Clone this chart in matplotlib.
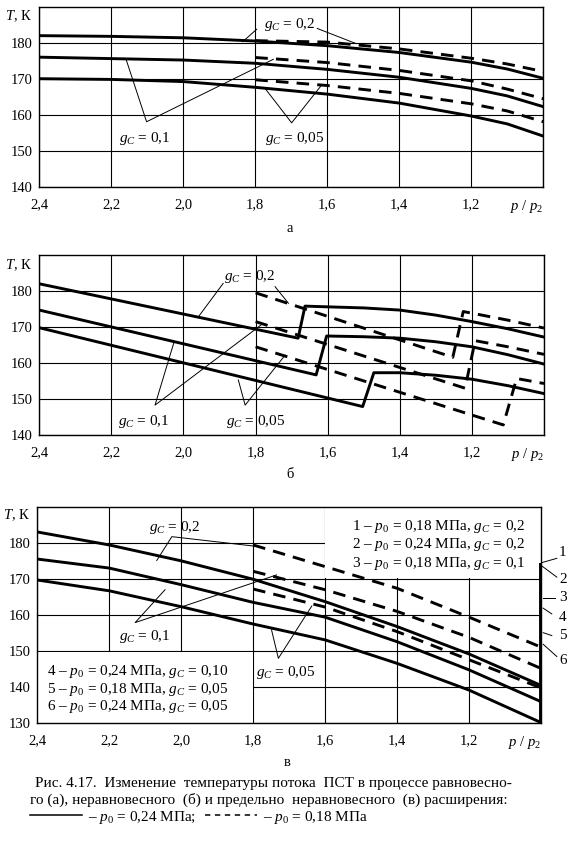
import matplotlib
matplotlib.use("Agg")
import matplotlib.pyplot as plt
from matplotlib.lines import Line2D

plt.rcParams['font.family'] = ['Liberation Serif', 'DejaVu Serif']
plt.rcParams['mathtext.fontset'] = 'custom'
plt.rcParams['mathtext.rm'] = 'Liberation Serif'
plt.rcParams['mathtext.it'] = 'Liberation Serif:italic'

# --- данные ---
x_ticks = [2.4, 2.2, 2.0, 1.8, 1.6, 1.4, 1.2, 1.0]
x_labels = ['2,4', '2,2', '2,0', '1,8', '1,6', '1,4', '1,2', '']

# (а) равновесное расширение
a_x_solid = [2.4, 2.2, 2.0, 1.8, 1.6, 1.4, 1.2, 1.1, 1.0]
a_T_solid_02 = [182.1, 181.9, 181.5, 180.6, 179.3, 177.4, 174.7, 172.8, 170.2]
a_T_solid_01 = [176.1, 175.7, 175.3, 174.4, 172.7, 170.5, 167.4, 165.3, 162.3]
a_T_solid_005 = [170.1, 169.9, 169.3, 167.7, 165.8, 163.3, 159.7, 157.5, 154.1]
a_x_dash = [1.8, 1.6, 1.4, 1.2, 1.1, 1.0]
a_T_dash_02 = [180.7, 180.3, 178.4, 175.8, 174.2, 172.1]
a_T_dash_01 = [176.0, 174.6, 172.4, 169.5, 167.2, 164.5]
a_T_dash_005 = [169.8, 168.2, 166.0, 163.1, 161.1, 158.1]

# (б) неравновесное расширение (со скачками)
b_x_solid_02 = [2.4, 1.682, 1.663, 1.6, 1.5, 1.4, 1.3, 1.2, 1.1, 1.0]
b_T_solid_02 = [182.0, 166.9, 175.8, 175.6, 175.3, 174.7, 173.3, 171.5, 169.5, 167.2]
b_x_solid_01 = [2.4, 1.632, 1.603, 1.5, 1.4, 1.3, 1.2, 1.1, 1.0]
b_T_solid_01 = [174.7, 156.7, 167.5, 167.3, 166.9, 165.9, 164.5, 162.3, 159.7]
b_x_solid_005 = [2.4, 1.503, 1.472, 1.4, 1.3, 1.2, 1.1, 1.0]
b_T_solid_005 = [169.8, 147.9, 157.3, 157.3, 156.6, 155.5, 153.7, 151.5]
b_x_dash_02 = [1.8, 1.253, 1.224, 1.1, 1.0]
b_T_dash_02 = [179.5, 161.6, 174.3, 171.9, 169.7]
b_x_dash_01 = [1.8, 1.219, 1.191, 1.1, 1.0]
b_T_dash_01 = [171.5, 153.0, 166.2, 164.5, 162.4]
b_x_dash_005 = [1.8, 1.113, 1.076, 1.0]
b_T_dash_005 = [164.5, 142.8, 155.7, 154.3]

# (в) предельно неравновесное расширение
c_x_solid = [2.4, 2.2, 2.0, 1.8, 1.6, 1.4, 1.2, 1.0]
c_T_2 = [183.0, 179.4, 175.0, 169.9, 163.7, 156.8, 149.2, 140.5]
c_T_4 = [175.5, 173.0, 168.4, 163.5, 159.4, 152.6, 144.8, 136.0]
c_T_6 = [169.7, 166.7, 162.3, 157.5, 153.1, 146.6, 139.2, 130.2]
c_x_dash = [1.8, 1.6, 1.4, 1.2, 1.0]
c_T_1 = [179.4, 173.4, 167.4, 159.4, 151.1]
c_T_3 = [172.1, 167.0, 161.0, 153.8, 145.2]
c_T_5 = [167.2, 162.2, 155.4, 147.6, 139.8]
c_wall_T = [130.0, 174.4]

c_legend_top = ['1 – $p_0$ = 0,18 МПа, $g_C$ = 0,2',
                '2 – $p_0$ = 0,24 МПа, $g_C$ = 0,2',
                '3 – $p_0$ = 0,18 МПа, $g_C$ = 0,1']
c_legend_bot = ['4 – $p_0$ = 0,24 МПа, $g_C$ = 0,10',
                '5 – $p_0$ = 0,18 МПа, $g_C$ = 0,05',
                '6 – $p_0$ = 0,24 МПа, $g_C$ = 0,05']
c_numbers = ['1', '2', '3', '4', '5', '6']

LW = 2.1
DASH = (0, (4.3, 2.8))
FS = 11

fig = plt.figure(figsize=(5.67, 8.42), dpi=100)


def setup(ax, ylo, yhi, yticks, t_frac):
    ax.set_xlim(2.4, 1.0)
    ax.set_ylim(ylo, yhi)
    ax.set_xticks(x_ticks)
    ax.set_xticklabels(x_labels)
    ax.set_yticks(yticks)
    ax.set_yticklabels([str(v) for v in yticks])
    ax.tick_params(length=0, labelsize=10.5)
    ax.tick_params(axis='x', pad=8)
    ax.tick_params(axis='y', pad=5)
    ax.set_axisbelow(True)
    ax.grid(True, color='black', linewidth=0.8)
    for s in ax.spines.values():
        s.set_linewidth(1.0)
    ax.text(-0.014, t_frac, '$T$, К', transform=ax.transAxes,
            ha='right', va='center', fontsize=10.5)
    ax.annotate('$p\\ /\\ p_2$', xy=(1.0, 0.0), xycoords='axes fraction',
                xytext=(0, -8), textcoords='offset points',
                ha='right', va='top', fontsize=10.5)


def leader(ax, xs, ys):
    ax.plot(xs, ys, color='black', lw=0.7, zorder=3, clip_on=False)


# ---------- (а) ----------
ax1 = fig.add_axes([39.3 / 567, 1 - 186.7 / 842, 504 / 567, 179.4 / 842])
setup(ax1, 140, 190, [140, 150, 160, 170, 180], 0.951)
for T in (a_T_solid_02, a_T_solid_01, a_T_solid_005):
    ax1.plot(a_x_solid, T, color='black', lw=LW, zorder=2)
for T in (a_T_dash_02, a_T_dash_01, a_T_dash_005):
    ax1.plot(a_x_dash, T, color='black', lw=LW, ls=DASH, zorder=2)
ax1.text(1.704, 185.1, '$g_C$ = 0,2', ha='center', va='center', fontsize=FS)
leader(ax1, [1.835, 1.796], [180.4, 183.9])
leader(ax1, [1.628, 1.523], [184.1, 180.0])
ax1.text(2.106, 153.5, '$g_C$ = 0,1', ha='center', va='center', fontsize=FS)
leader(ax1, [2.159, 2.102, 1.75], [175.5, 158.1, 175.5])
ax1.text(1.69, 153.5, '$g_C$ = 0,05', ha='center', va='center', fontsize=FS)
leader(ax1, [1.773, 1.699, 1.616], [167.4, 157.8, 168.3])
fig.text(290 / 567, 1 - 228 / 842, 'а', ha='center', va='center', fontsize=10.5)

# ---------- (б) ----------
ax2 = fig.add_axes([39.3 / 567, 1 - 435 / 842, 504.7 / 567, 180 / 842])
setup(ax2, 140, 190, [140, 150, 160, 170, 180], 0.944)
ax2.plot(b_x_solid_02, b_T_solid_02, color='black', lw=LW, zorder=2)
ax2.plot(b_x_solid_01, b_T_solid_01, color='black', lw=LW, zorder=2)
ax2.plot(b_x_solid_005, b_T_solid_005, color='black', lw=LW, zorder=2)
ax2.plot(b_x_dash_02, b_T_dash_02, color='black', lw=LW, ls=DASH, zorder=2)
ax2.plot(b_x_dash_01, b_T_dash_01, color='black', lw=LW, ls=DASH, zorder=2)
ax2.plot(b_x_dash_005, b_T_dash_005, color='black', lw=LW, ls=DASH, zorder=2)
ax2.text(1.816, 184.0, '$g_C$ = 0,2', ha='center', va='center', fontsize=FS)
leader(ax2, [1.959, 1.890], [172.8, 182.1])
leader(ax2, [1.746, 1.709], [181.2, 176.6])
ax2.text(2.109, 143.7, '$g_C$ = 0,1', ha='center', va='center', fontsize=FS)
leader(ax2, [2.026, 2.079, 1.779], [165.9, 148.3, 171.0])
ax2.text(1.801, 143.7, '$g_C$ = 0,05', ha='center', va='center', fontsize=FS)
leader(ax2, [1.848, 1.829, 1.718], [155.3, 148.3, 162.2])
fig.text(290 / 567, 1 - 474 / 842, 'б', ha='center', va='center', fontsize=10.5)

# ---------- (в) ----------
ax3 = fig.add_axes([37.3 / 567, 1 - 723.3 / 842, 503.7 / 567, 216.6 / 842])
setup(ax3, 130, 190, [130, 140, 150, 160, 170, 180], 0.962)
# белые поля под подписями
ax3.fill_between([1.6, 1.0], 170.3, 190, color='white', lw=0, zorder=1)
ax3.fill_between([2.4, 1.8], 130, 149.7, color='white', lw=0, zorder=1)
for T in (c_T_2, c_T_4, c_T_6):
    ax3.plot(c_x_solid, T, color='black', lw=LW, zorder=2)
for T in (c_T_1, c_T_3, c_T_5):
    ax3.plot(c_x_dash, T, color='black', lw=LW, ls=DASH, zorder=2)
ax3.plot([x_ticks[-1]] * 2, c_wall_T, color='black', lw=2.8, zorder=3,
         solid_capstyle='butt')
for i, s in enumerate(c_legend_top):
    ax3.text(1.526, 184.5 - 5.1 * i, s, ha='left', va='center', fontsize=FS)
for i, s in enumerate(c_legend_bot):
    ax3.text(2.374, 144.3 - 4.85 * i, s, ha='left', va='center', fontsize=FS)
ax3.text(2.017, 184.3, '$g_C$ = 0,2', ha='center', va='center', fontsize=FS)
leader(ax3, [2.068, 2.026, 1.790], [175.1, 181.7, 179.0])
ax3.text(2.10, 154.0, '$g_C$ = 0,1', ha='center', va='center', fontsize=FS)
leader(ax3, [2.045, 2.128, 1.735], [167.0, 157.9, 171.1])
ax3.text(1.71, 144.0, '$g_C$ = 0,05', ha='center', va='center', fontsize=FS)
leader(ax3, [1.749, 1.73, 1.637], [155.9, 148.0, 162.5])
# выноски 1-6 у правой границы
num_lead_x = [[0.998, 0.956], [0.998, 0.956], [0.994, 0.961],
              [0.994, 0.970], [0.994, 0.970], [0.994, 0.956]]
num_lead_y = [[174.5, 175.7], [173.6, 170.5], [164.7, 164.7],
              [161.9, 160.3], [155.1, 154.3], [151.9, 148.5]]
num_y = [177.4, 169.8, 164.8, 159.2, 154.2, 147.5]
for s, lx, ly, ty in zip(c_numbers, num_lead_x, num_lead_y, num_y):
    leader(ax3, lx, ly)
    ax3.text(0.950, ty, s, ha='left', va='center', fontsize=FS, clip_on=False)
fig.text(287 / 567, 1 - 762 / 842, 'в', ha='center', va='center', fontsize=10.5)

# ---------- подпись ----------
CAP = 11
fig.text(35 / 567, 1 - 784 / 842,
         'Рис. 4.17.  Изменение  температуры потока  ПСТ в процессе равновесно-',
         ha='left', va='center', fontsize=CAP)
fig.text(30 / 567, 1 - 800 / 842,
         'го (а), неравновесного  (б) и предельно  неравновесного  (в) расширения:',
         ha='left', va='center', fontsize=CAP)
handles = [Line2D([], [], color='black', lw=1.1),
           Line2D([], [], color='black', lw=1.1, ls=(0, (3.5, 3)))]
fig.legend(handles, ['– $p_0$ = 0,24 МПа;', '– $p_0$ = 0,18 МПа'],
           loc='center left', bbox_to_anchor=(30 / 567, 1 - 817 / 842),
           ncol=2, frameon=False, fontsize=CAP, handlelength=3.4,
           handletextpad=0.4, columnspacing=0.6, borderaxespad=0, borderpad=0)

fig.savefig('out.png', dpi=100)
